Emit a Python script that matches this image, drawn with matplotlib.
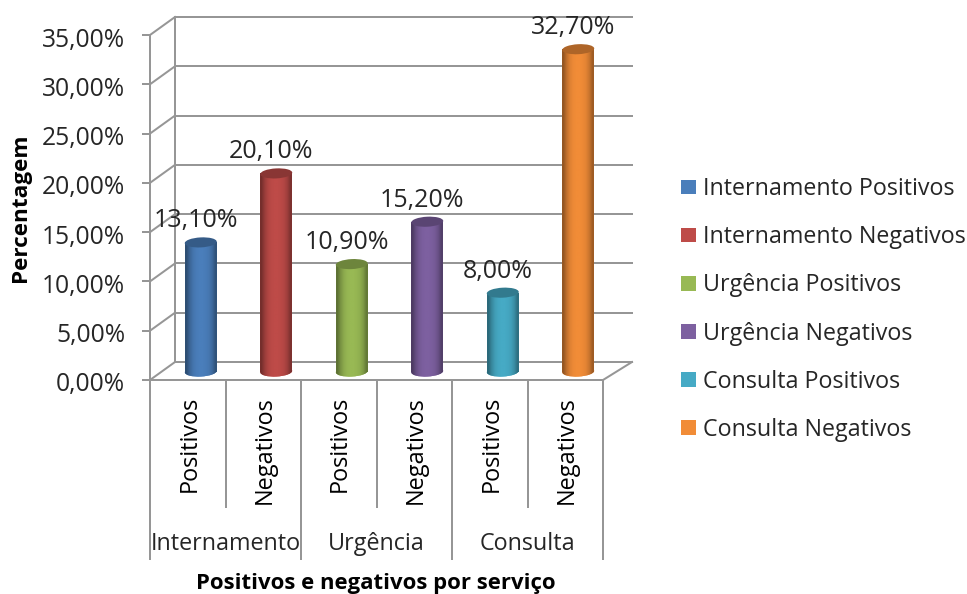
import numpy as np
import matplotlib
matplotlib.use("Agg")
import matplotlib.pyplot as plt
from matplotlib.patches import Ellipse, Patch
from matplotlib.colors import to_rgb
from matplotlib.transforms import Affine2D, ScaledTranslation

# --- data ---
series_names = ["Internamento Positivos", "Internamento Negativos", "Urgência Positivos",
                "Urgência Negativos", "Consulta Positivos", "Consulta Negativos"]
bar_labels = ["Positivos", "Negativos"] * 3
groups = ["Internamento", "Urgência", "Consulta"]
values = [13.1, 20.1, 10.9, 15.2, 8.0, 32.7]
value_labels = ["13,10%", "20,10%", "10,90%", "15,20%", "8,00%", "32,70%"]
y_ticks = [0, 5, 10, 15, 20, 25, 30, 35]
y_tick_labels = ["0,00%", "5,00%", "10,00%", "15,00%", "20,00%", "25,00%", "30,00%", "35,00%"]
colors = ["#4A7EBB", "#BE4B48", "#98B954", "#7D60A0", "#46AAC5", "#F18C37"]

# --- style ---
W, H, DPI = 967, 594, 100
FONT = "Open Sans"
TXT = "#262626"
GRID = "#969696"
px = 72 / DPI  # one pixel in points
plt.rcParams["font.family"] = [FONT, "DejaVu Sans"]

fig = plt.figure(figsize=(W / DPI, H / DPI), dpi=DPI, facecolor="white")
L, R, T, B = 150, 603, 35, 380
ax = fig.add_axes([L / W, (H - B) / H, (R - L) / W, (B - T) / H])
ax.set_xlim(0, 6)
ax.set_ylim(0, 35)
for s in ax.spines.values():
    s.set_visible(False)

# depth of the pseudo-3D box, in data units
dx = 25 / (R - L) * 6
dy = 18 / (B - T) * 35
lw = 2 * px

# walls
for v in y_ticks:
    ax.plot([dx, 6 + dx * 1.16], [v + dy, v + dy], color=GRID, lw=lw, clip_on=False, zorder=1)
    ax.plot([0, dx], [v, v + dy], color=GRID, lw=lw, clip_on=False, zorder=1)
ax.plot([dx, dx], [dy, 35 + dy], color=GRID, lw=lw, clip_on=False, zorder=1)
ax.plot([0, 0], [0, 35], color=GRID, lw=lw, clip_on=False, zorder=1)
ax.plot([0, 6], [0, 0], color=GRID, lw=lw, clip_on=False, zorder=1)
ax.plot([6, 6 + dx * 1.16], [0, dy], color=GRID, lw=lw, clip_on=False, zorder=1)

# cylinders
half = 16 / (R - L) * 6
base = dy * 0.47
xc = [i + 0.5 + dx * 0.52 for i in range(len(values))]
shade = np.array([0.62, 0.80, 0.92, 0.98, 1.0, 1.0, 0.98, 0.94, 0.84, 0.66])


def disc(x, y, color, z):
    tr = (Affine2D().scale(16.0, 5.0).rotate_deg(3)
          + ScaledTranslation(x, y, ax.transData))
    e = Ellipse((0, 0), 2, 2, facecolor=color, edgecolor="none", transform=tr, zorder=z, clip_on=False)
    ax.add_patch(e)
    return e


for x, v, c, lab in zip(xc, values, colors, value_labels):
    rgb = np.array(to_rgb(c))
    grad = (shade[None, :, None] * rgb[None, None, :]).clip(0, 1)
    rect = ax.bar(x, v, width=2 * half, bottom=base, color=c, linewidth=0, zorder=3, clip_on=False)[0]
    low = disc(x, base, c, 3)
    for clip in (rect, low):
        im = ax.imshow(grad, extent=[x - half, x + half, base - 1, base + v], aspect="auto",
                       interpolation="bilinear", zorder=3.2)
        im.set_clip_path(clip)
    disc(x, base + v, rgb * 0.72, 3.4)
    ax.annotate(lab, (x, base + v), xytext=(-5 * px, 21.5 * px), textcoords="offset points",
                ha="center", va="center", fontsize=25 * px, color=TXT, zorder=5,
                annotation_clip=False)
ax.set_xlim(0, 6)
ax.set_ylim(0, 35)

# y axis
ax.set_yticks(y_ticks, y_tick_labels, fontsize=24.6 * px, color=TXT)
ax.tick_params(axis="y", length=8 * px, width=lw, color=GRID, pad=17 * px)

# x axis: two-level categories
ax.set_xticks([i + 0.5 for i in range(6)], bar_labels, rotation=90, fontsize=23.5 * px, color="black")
ax.tick_params(axis="x", length=0, pad=16 * px)
for t in ax.get_yticklabels():
    t.set_transform(t.get_transform() + ScaledTranslation(0, -2 / DPI, fig.dpi_scale_trans))
for t in ax.get_xticklabels():
    t.set_transform(t.get_transform() + ScaledTranslation(1.5 / DPI, 0, fig.dpi_scale_trans))
xt = ax.get_xaxis_transform()
short = -(507 - B) / (B - T)
long_ = -(559 - B) / (B - T)
for i in range(7):
    ax.plot([i, i], [0, long_ if i % 2 == 0 else short], color=GRID, lw=lw, transform=xt, clip_on=False)
for i, g in enumerate(groups):
    ax.text(2 * i + 1, -(544 - B) / (B - T), g, transform=xt, ha="center", va="center",
            fontsize=23.4 * px, color=TXT)

# axis titles
fig.text(376 / W, 1 - 584 / H, "Positivos e negativos por serviço", ha="center", va="center",
         fontsize=22.2 * px, fontweight="bold", color="black")
fig.text(21 / W, 1 - 208 / H, "Percentagem", rotation=90, ha="center", va="center",
         fontsize=22.5 * px, fontweight="bold", color="black")

# legend
handles = [Patch(facecolor=c, edgecolor="none") for c in colors]
leg = fig.legend(handles, series_names, loc="center left", bbox_to_anchor=(681 / W, 1 - 309.5 / H),
                 frameon=False, fontsize=23.2 * px, labelcolor=TXT, handlelength=0.65, handleheight=0.6,
                 handletextpad=0.3, labelspacing=1.04, borderpad=0, borderaxespad=0)

fig.savefig("out.png", dpi=DPI, facecolor="white")
